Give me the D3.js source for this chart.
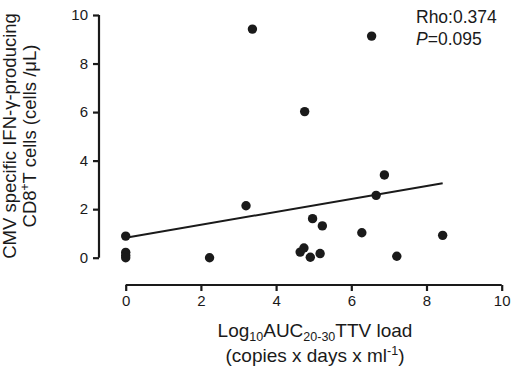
<!DOCTYPE html>
<html>
<head>
<meta charset="utf-8">
<script src="https://cdn.jsdelivr.net/npm/d3@7"></script>
<style>
  html, body { margin: 0; padding: 0; background: #fff; }
  svg { display: block; font-family: "Liberation Sans", Arial, Helvetica, sans-serif; }
</style>
</head>
<body>
<svg id="chart" width="516" height="368"></svg>
<script>
// Log10 AUC(20-30) TTV load vs CMV-specific IFN-γ-producing CD8+ T cells
const ttvLoad = [0, 0, 0, 0, 2.23, 3.2, 3.37, 4.64, 4.74, 4.76, 4.91, 4.97, 5.17, 5.23, 6.28, 6.54, 6.66, 6.88, 7.21, 8.43];
const cd8Cells = [0.89, 0.22, 0.10, 0.0, 0.0, 2.14, 9.42, 0.23, 0.40, 6.02, 0.02, 1.61, 0.17, 1.31, 1.03, 9.13, 2.57, 3.41, 0.06, 0.92];

// Fitted line: intercept, slope, and x-span it is drawn over
const fitCoef = [0.82, 0.267];
const fitRange = [0, 8.43];

const xTicks = [0, 2, 4, 6, 8, 10];
const yTicks = [0, 2, 4, 6, 8, 10];
const statLabels = ["Rho:0.374", "0.095"];

const svg = d3.select("#chart");

const x = d3.scaleLinear().domain([0, 10]).range([125.7, 501.7]);
const y = d3.scaleLinear().domain([0, 10]).range([257.7, 15]);

const ink = "#1a1a1a";

// Y axis (offset to the left of the data region)
const yAxisX = 99;
const yAxis = svg.append("g")
  .attr("transform", `translate(${yAxisX},0)`)
  .call(d3.axisLeft(y).tickValues(yTicks).tickSize(6).tickPadding(5).tickFormat(d3.format("d")));

// X axis (offset below the data region)
const xAxisY = 285;
const xAxis = svg.append("g")
  .attr("transform", `translate(0,${xAxisY})`)
  .call(d3.axisBottom(x).tickValues(xTicks).tickSize(6).tickPadding(4).tickFormat(d3.format("d")));

[yAxis, xAxis].forEach(g => {
  g.select(".domain").attr("stroke", ink).attr("stroke-width", 2.2);
  g.selectAll(".tick line").attr("stroke", ink).attr("stroke-width", 2.2);
  g.selectAll(".tick text").attr("fill", ink).style("font-size", "15px");
});
// Plain domain lines without the outer tick caps
yAxis.select(".domain").attr("d", `M0,${y(10)}V${y(0)}`);
xAxis.select(".domain").attr("d", `M${x(0)},0H${x(10)}`);

// Regression line
svg.append("line")
  .attr("x1", x(fitRange[0]))
  .attr("y1", y(fitCoef[0] + fitCoef[1] * fitRange[0]))
  .attr("x2", x(fitRange[1]))
  .attr("y2", y(fitCoef[0] + fitCoef[1] * fitRange[1]))
  .attr("stroke", ink)
  .attr("stroke-width", 2);

// Data points
svg.append("g")
  .selectAll("circle")
  .data(ttvLoad.map((v, i) => [v, cd8Cells[i]]))
  .join("circle")
  .attr("cx", d => x(d[0]))
  .attr("cy", d => y(d[1]))
  .attr("r", 4.7)
  .attr("fill", ink);

// Correlation annotation
const stat = svg.append("g").attr("fill", ink).style("font-size", "17.5px");
stat.append("text").attr("x", 416).attr("y", 23).text(statLabels[0]);
const pText = stat.append("text").attr("x", 416).attr("y", 45);
pText.append("tspan").style("font-style", "italic").text("P");
pText.append("tspan").text("=" + statLabels[1]);

// Y axis title (two lines, rotated)
const yTitle = svg.append("g")
  .attr("transform", "translate(0,136) rotate(-90)")
  .attr("fill", ink)
  .style("font-size", "18.5px")
  .attr("text-anchor", "middle");
yTitle.append("text").attr("x", 0).attr("y", 16).text("CMV specific IFN-γ-producing");
const yl2 = yTitle.append("text").attr("x", 0).attr("y", 36);
yl2.append("tspan").text("CD8");
yl2.append("tspan").attr("dy", -7).style("font-size", "12px").text("+");
yl2.append("tspan").attr("dy", 7).text("T cells (cells /μL)");

// X axis title (two lines with sub/superscripts)
const xTitle = svg.append("g")
  .attr("fill", ink)
  .style("font-size", "19px")
  .attr("text-anchor", "middle");
const xl1 = xTitle.append("text").attr("x", 315).attr("y", 337);
xl1.append("tspan").text("Log");
xl1.append("tspan").attr("dy", 4).style("font-size", "12.5px").text("10");
xl1.append("tspan").attr("dy", -4).text("AUC");
xl1.append("tspan").attr("dy", 4).style("font-size", "12.5px").text("20-30");
xl1.append("tspan").attr("dy", -4).text("TTV load");
const xl2 = xTitle.append("text").attr("x", 315).attr("y", 362);
xl2.append("tspan").text("(copies x days x ml");
xl2.append("tspan").attr("dy", -7).style("font-size", "12.5px").text("-1");
xl2.append("tspan").attr("dy", 7).text(")");
</script>
</body>
</html>
